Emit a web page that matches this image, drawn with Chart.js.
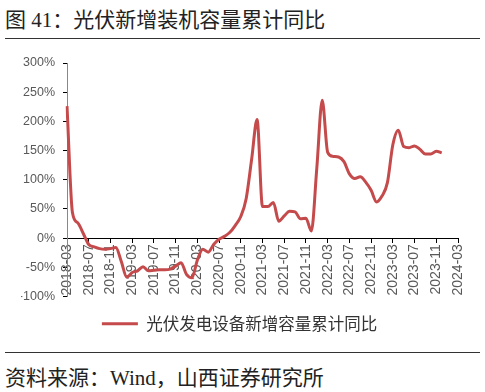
<!DOCTYPE html>
<html><head><meta charset="utf-8">
<script src="https://cdn.jsdelivr.net/npm/chart.js@4/dist/chart.umd.min.js"></script>
<style>
body{margin:0;background:#fff;width:485px;height:392px;position:relative;overflow:hidden;font-family:"Liberation Serif","Noto Sans CJK SC",serif;}
#title{position:absolute;left:5px;top:3px;font-size:21px;color:#222;white-space:nowrap;}
.rule{position:absolute;left:5px;width:475px;height:1px;background:#333;}
#src{position:absolute;left:5px;top:361px;font-size:21px;color:#222;white-space:nowrap;}
#c{position:absolute;left:0;top:45px;}
</style></head><body>
<div id="title">图 41：光伏新增装机容量累计同比</div>
<div class="rule" style="top:38px"></div>
<canvas id="c" width="485" height="297"></canvas>
<div class="rule" style="top:352px"></div>
<div id="src">资料来源：Wind，山西证券研究所</div>
<script>
const seriesName = '光伏发电设备新增容量累计同比';
// monthly categories 2018-03 .. 2024-03
const months = [];
for (let y = 2018; y <= 2024; y++) for (let m = 1; m <= 12; m++) {
  if ((y === 2018 && m < 3) || (y === 2024 && m > 3)) continue;
  months.push(y + '-' + String(m).padStart(2, '0'));
}
// YoY % (2018-03 .. 2023-12)
const yoy = [226,44,26,8,-11,-15,-18,-19,-18,-16,
  -40,-67,-59,-56,-49,-56,-55,-54,-54,-53,
  -48,-42,-62,-68,-38,-19,-24,-11,-2,3,
  10,22,37,68,135,203,54,54,61,29,
  38,46,45,33,34,12,120,236,147,140,
  139,131,110,102,105,96,82,62,72,95,
  160,185,157,155,158,152,144,144,149,146];
const yTicks = {min:-100, max:300, step:50};

new Chart(document.getElementById('c'), {
  type: 'line',
  data: { labels: months, datasets: [{
    label: seriesName, data: yoy, borderColor: '#C44A4B', backgroundColor: '#C44A4B',
    borderWidth: 3, pointRadius: 0, cubicInterpolationMode: 'monotone', fill: false
  }]},
  options: {
    responsive: false, animation: false,
    layout: { padding: { left: 21, right: 27, top: 18, bottom: 0 } },
    plugins: {
      legend: { position: 'bottom', labels: { boxWidth: 36, boxHeight: 3, color: '#333',
        font: { size: 16.5, family: '"Noto Sans CJK SC", sans-serif' }, padding: 19,
        generateLabels: c => Chart.defaults.plugins.legend.labels.generateLabels(c).map(l => Object.assign(l, {lineWidth: 0})) } },
      tooltip: { enabled: false }
    },
    scales: {
      x: {
        position: { y: 0 },
        offset: false,
        grid: { drawOnChartArea: false, drawTicks: true, tickLength: 4, color: '#000' },
        border: { color: '#000', width: 1 },
        ticks: { autoSkip: false, maxRotation: 90, minRotation: 90, color: '#595959',
          font: { size: 14, family: '"Liberation Sans", Arial, sans-serif' }, padding: 2,
          callback: function(v, i) { return i % 4 === 0 ? this.getLabelForValue(v) : null; } }
      },
      y: {
        min: yTicks.min, max: yTicks.max,
        afterFit: s => { s.width = 46; },
        grid: { drawOnChartArea: false, drawTicks: true, tickLength: 4, color: '#000' },
        border: { color: '#888', width: 1 },
        ticks: { stepSize: yTicks.step, color: '#595959', padding: 8,
          font: { size: 12.5, family: '"Liberation Sans", Arial, sans-serif' },
          callback: v => v + '%' }
      }
    }
  }
});
</script>
</body></html>
